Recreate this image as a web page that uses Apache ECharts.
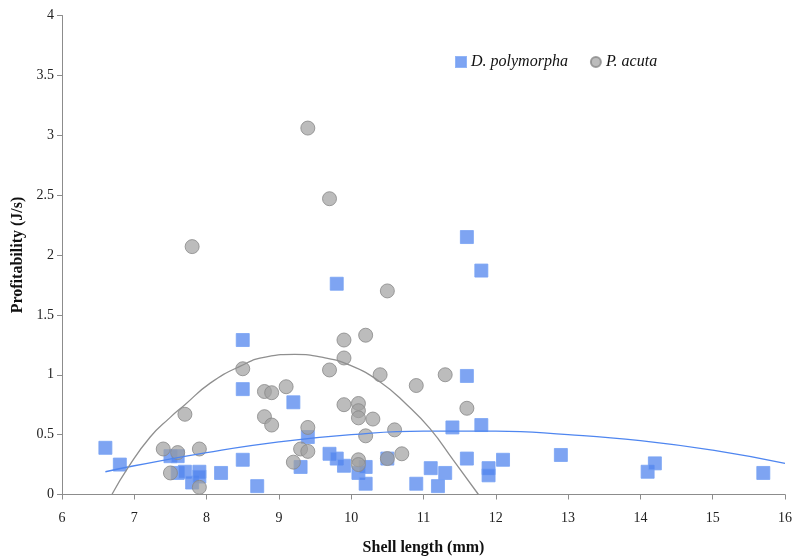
<!DOCTYPE html>
<html>
<head>
<meta charset="utf-8">
<script src="https://cdn.jsdelivr.net/npm/echarts@6/dist/echarts.min.js"></script>
<style>html,body{margin:0;padding:0;background:#fff;}#chart{width:792px;height:559px;}</style>
</head>
<body>
<div id="chart"></div>
<script>
// D. polymorpha (blue squares)
const dpX = [6.6, 6.8, 7.5, 7.6, 7.6, 7.7, 7.8, 7.9, 7.9, 8.2, 8.5, 8.5, 8.5, 8.7, 9.2, 9.3, 9.4, 9.7, 9.8, 9.8, 9.9, 10.1, 10.2, 10.2, 10.5, 10.9, 11.1, 11.2, 11.3, 11.4, 11.6, 11.6, 11.6, 11.8, 11.8, 11.9, 11.9, 12.1, 12.9, 14.1, 14.2, 15.7];
const dpY = [0.39, 0.25, 0.32, 0.32, 0.18, 0.19, 0.10, 0.19, 0.15, 0.18, 1.29, 0.88, 0.29, 0.07, 0.77, 0.23, 0.48, 0.34, 1.76, 0.30, 0.24, 0.18, 0.23, 0.09, 0.30, 0.09, 0.22, 0.07, 0.18, 0.56, 2.15, 0.99, 0.30, 1.87, 0.58, 0.22, 0.16, 0.29, 0.33, 0.19, 0.26, 0.18];
// P. acuta (gray circles)
const paX = [7.4, 7.5, 7.6, 7.7, 7.8, 7.9, 7.9, 8.5, 8.8, 8.8, 8.9, 8.9, 9.1, 9.2, 9.3, 9.4, 9.4, 9.4, 9.7, 9.7, 9.9, 9.9, 9.9, 10.1, 10.1, 10.1, 10.1, 10.1, 10.2, 10.2, 10.3, 10.4, 10.5, 10.5, 10.6, 10.7, 10.9, 11.3, 11.6];
const paY = [0.38, 0.18, 0.35, 0.67, 2.07, 0.38, 0.06, 1.05, 0.86, 0.65, 0.85, 0.58, 0.90, 0.27, 0.38, 3.06, 0.56, 0.36, 2.47, 1.04, 1.29, 1.14, 0.75, 0.76, 0.70, 0.64, 0.29, 0.25, 1.33, 0.49, 0.63, 1.00, 1.70, 0.30, 0.54, 0.34, 0.91, 1.00, 0.72];
// trend lines
const dpTrendX = [6.6, 7, 8, 9, 10, 11, 12, 13, 14, 15, 16];
const dpTrendY = [0.19, 0.24, 0.35, 0.44, 0.50, 0.53, 0.53, 0.50, 0.45, 0.37, 0.26];
const paTrendX = [6.69, 6.92, 7.22, 7.49, 7.70, 8.05, 8.46, 8.83, 9.22, 9.61, 9.98, 10.40, 10.77, 11.09, 11.41, 11.76];
const paTrendY = [0, 0.23, 0.48, 0.64, 0.75, 0.93, 1.07, 1.15, 1.17, 1.145, 1.08, 0.94, 0.75, 0.55, 0.29, 0];

const seriesNames = ['D. polymorpha', 'P. acuta'];
const xTitle = 'Shell length (mm)';
const yTitle = 'Profitability (J/s)';

const zip = (a, b) => a.map((v, i) => [v, b[i]]);
const font = 'Liberation Serif';

const chart = echarts.init(document.getElementById('chart'), null, {renderer: 'canvas'});
chart.setOption({
  animation: false,
  backgroundColor: '#fff',
  grid: {left: 62, right: 7, top: 15.5, bottom: 64.5, containLabel: false, outerBoundsMode: 'none'},
  legend: {
    left: 450, top: 49, itemGap: 22, itemWidth: 10, itemHeight: 10,
    data: [
      {name: seriesNames[0], icon: 'rect'},
      {name: seriesNames[1], icon: 'circle'}
    ],
    textStyle: {fontFamily: font, fontStyle: 'italic', fontSize: 16, color: '#111'}
  },
  xAxis: {
    type: 'value', min: 6, max: 16, interval: 1,
    name: xTitle, nameLocation: 'middle', nameGap: 45,
    nameTextStyle: {fontFamily: font, fontWeight: 'bold', fontSize: 16, color: '#111'},
    axisLine: {show: true, onZero: false, lineStyle: {color: '#8c8c8c', width: 1}},
    axisTick: {show: true, length: 5, lineStyle: {color: '#8c8c8c'}},
    axisLabel: {fontFamily: font, fontSize: 14, color: '#222', margin: 17},
    splitLine: {show: false}
  },
  yAxis: {
    type: 'value', min: 0, max: 4, interval: 0.5,
    name: yTitle, nameLocation: 'middle', nameGap: 33, nameRotate: 90,
    nameTextStyle: {fontFamily: font, fontWeight: 'bold', fontSize: 16, color: '#111'},
    axisLine: {show: true, lineStyle: {color: '#8c8c8c', width: 1}},
    axisTick: {show: true, length: 5, lineStyle: {color: '#8c8c8c'}},
    axisLabel: {fontFamily: font, fontSize: 14, color: '#222', margin: 8},
    splitLine: {show: false}
  },
  series: [
    {
      name: seriesNames[0], type: 'scatter', symbol: 'rect', symbolSize: 13,
      data: zip(dpX, dpY),
      itemStyle: {color: 'rgba(80,132,238,0.92)', borderColor: '#78a2f4', borderWidth: 1},
      z: 3
    },
    {
      name: seriesNames[1], type: 'scatter', symbol: 'circle', symbolSize: 14,
      data: zip(paX, paY),
      itemStyle: {color: 'rgba(160,160,160,0.88)', borderColor: '#888888', borderWidth: 1},
      z: 3
    },
    {
      name: 'dpTrend', type: 'line', smooth: true, showSymbol: false, symbol: 'none',
      data: zip(dpTrendX, dpTrendY),
      lineStyle: {color: '#4f86f0', width: 1.3}, z: 4, silent: true
    },
    {
      name: 'paTrend', type: 'line', smooth: true, showSymbol: false, symbol: 'none',
      data: zip(paTrendX, paTrendY),
      lineStyle: {color: '#8f8f8f', width: 1.3}, z: 4, silent: true
    }
  ]
});
</script>
</body>
</html>
